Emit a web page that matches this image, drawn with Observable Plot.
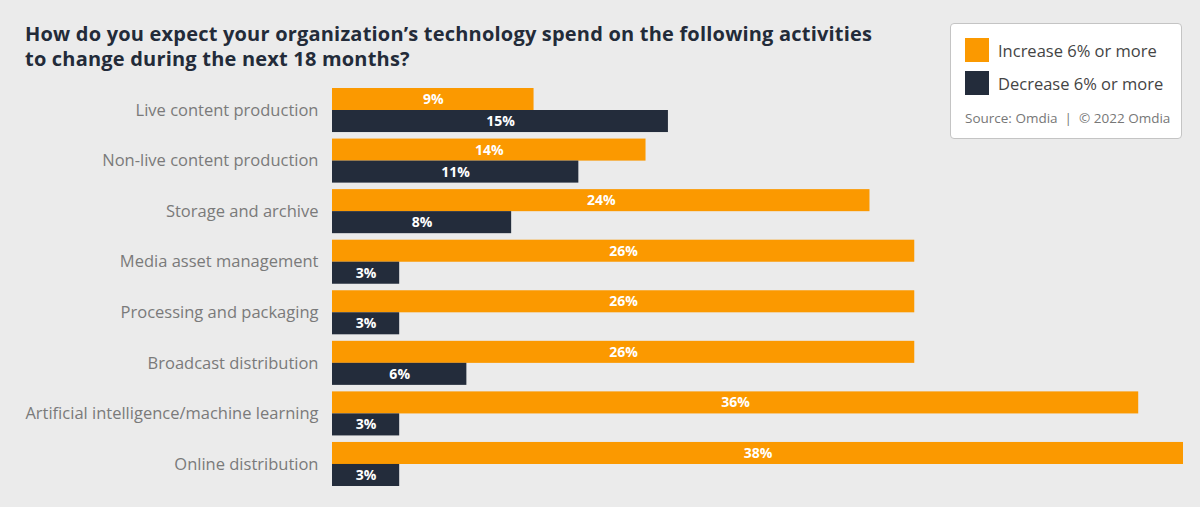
<!DOCTYPE html>
<html>
<head>
<meta charset="utf-8">
<script src="https://cdn.jsdelivr.net/npm/d3@7"></script>
<script src="https://cdn.jsdelivr.net/npm/@observablehq/plot@0.6"></script>
<style>
  html, body { margin: 0; padding: 0; background: #ebebeb; }
  #wrap { position: relative; width: 1200px; height: 507px; background: #ebebeb; overflow: hidden; font-family: "Open Sans", sans-serif; }
  #title { position: absolute; left: 25px; top: 21px; font-size: 20px; font-weight: 700; line-height: 25px; color: #232b39; letter-spacing: 0.2px; }
  #legend { position: absolute; left: 950px; top: 23px; width: 232px; height: 116px; background: #fff; border: 1px solid #c4c4c4; border-radius: 4px; box-sizing: border-box; }
  .item { position: absolute; left: 14px; display: flex; align-items: center; font-size: 16.5px; color: #444; }
  .sw { width: 24px; height: 24px; margin-right: 9px; }
  #source { position: absolute; left: 14px; top: 85px; font-size: 13.5px; color: #777; }
  #chart { position: absolute; left: 0; top: 0; }
</style>
</head>
<body>
<div id="wrap">
  <div id="chart"></div>
  <div id="title">How do you expect your organization’s technology spend on the following activities<br>to change during the next 18 months?</div>
  <div id="legend"></div>
</div>
<script>
const categories = [
  "Live content production",
  "Non-live content production",
  "Storage and archive",
  "Media asset management",
  "Processing and packaging",
  "Broadcast distribution",
  "Artificial intelligence/machine learning",
  "Online distribution"
];
const increase = [9, 14, 24, 26, 26, 26, 36, 38];
const decrease = [15, 11, 8, 3, 3, 6, 3, 3];
const seriesNames = ["Increase 6% or more", "Decrease 6% or more"];
const seriesColors = ["#fb9900", "#232c3b"];
const sourceText = "Source: Omdia  |  © 2022 Omdia";

const inc = categories.map((c, i) => ({category: c, value: increase[i]}));
const dec = categories.map((c, i) => ({category: c, value: decrease[i]}));

const plot = Plot.plot({
  width: 1200,
  height: 507,
  marginLeft: 332,
  marginRight: 17,
  marginTop: 88,
  marginBottom: 21,
  style: { background: "transparent", fontFamily: "Open Sans, sans-serif" },
  x: { axis: null, domain: [0, d3.max([...increase, ...decrease])] },
  y: { domain: categories, paddingInner: 0.129, paddingOuter: 0, round: false, label: null },
  marks: [
    Plot.axisY({ tickSize: 0, tickPadding: 14, fontSize: 16.5, color: "#7a7a7a", label: null }),
    Plot.barX(inc, { x: "value", y: "category", fill: seriesColors[0], insetBottom: 22 }),
    Plot.barX(dec, { x: "value", y: "category", fill: seriesColors[1], insetTop: 22 }),
    Plot.text(inc, { x: d => d.value / 2, y: "category", dy: -11, text: d => d.value + "%", fill: "#fff", fontWeight: 700, fontSize: 14 }),
    Plot.text(dec, { x: d => d.value / 2, y: "category", dy: 11, text: d => d.value + "%", fill: "#fff", fontWeight: 700, fontSize: 14 })
  ]
});
document.getElementById("chart").appendChild(plot);

const legend = document.getElementById("legend");
seriesNames.forEach((name, i) => {
  const it = document.createElement("div");
  it.className = "item";
  it.style.top = (14 + i * 33) + "px";
  const sw = document.createElement("div");
  sw.className = "sw";
  sw.style.background = seriesColors[i];
  const tx = document.createElement("span");
  tx.textContent = name;
  it.appendChild(sw); it.appendChild(tx);
  legend.appendChild(it);
});
const src = document.createElement("div");
src.id = "source";
src.textContent = sourceText;
src.style.whiteSpace = "pre";
legend.appendChild(src);
</script>
</body>
</html>
